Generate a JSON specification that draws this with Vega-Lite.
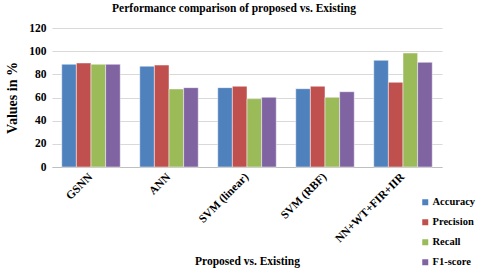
{
  "$schema": "https://vega.github.io/schema/vega-lite/v6.json",
  "width": 390,
  "height": 139,
  "autosize": "none",
  "padding": {"left": 52, "top": 28, "right": 38, "bottom": 105},
  "background": "white",
  "title": {
    "text": "Performance comparison of proposed vs. Existing",
    "font": "Times New Roman, Liberation Serif, serif",
    "fontSize": 11.5,
    "fontWeight": "bold",
    "color": "#000000",
    "anchor": "middle",
    "dx": -13,
    "offset": 8
  },
  "data": {
    "values": [
      {"method": "GSNN", "metric": "Accuracy", "value": 88.7},
      {"method": "GSNN", "metric": "Precision", "value": 89.8},
      {"method": "GSNN", "metric": "Recall", "value": 88.7},
      {"method": "GSNN", "metric": "F1-score", "value": 88.7},
      {"method": "ANN", "metric": "Accuracy", "value": 87.0},
      {"method": "ANN", "metric": "Precision", "value": 88.0},
      {"method": "ANN", "metric": "Recall", "value": 67.4},
      {"method": "ANN", "metric": "F1-score", "value": 68.5},
      {"method": "SVM (linear)", "metric": "Accuracy", "value": 68.5},
      {"method": "SVM (linear)", "metric": "Precision", "value": 69.7},
      {"method": "SVM (linear)", "metric": "Recall", "value": 59.0},
      {"method": "SVM (linear)", "metric": "F1-score", "value": 60.2},
      {"method": "SVM (RBF)", "metric": "Accuracy", "value": 67.6},
      {"method": "SVM (RBF)", "metric": "Precision", "value": 69.7},
      {"method": "SVM (RBF)", "metric": "Recall", "value": 60.2},
      {"method": "SVM (RBF)", "metric": "F1-score", "value": 65.0},
      {"method": "NN+WT+FIR+IIR", "metric": "Accuracy", "value": 92.1},
      {"method": "NN+WT+FIR+IIR", "metric": "Precision", "value": 73.1},
      {"method": "NN+WT+FIR+IIR", "metric": "Recall", "value": 98.4},
      {"method": "NN+WT+FIR+IIR", "metric": "F1-score", "value": 90.4}
    ]
  },
  "mark": {"type": "bar", "stroke": "#ffffff", "strokeWidth": 0.6, "strokeOpacity": 0.8},
  "encoding": {
    "x": {
      "field": "method",
      "type": "nominal",
      "sort": ["GSNN", "ANN", "SVM (linear)", "SVM (RBF)", "NN+WT+FIR+IIR"],
      "scale": {"paddingInner": 0.25, "paddingOuter": 0.125},
      "axis": {
        "title": "Proposed vs. Existing",
        "titleFont": "Times New Roman, Liberation Serif, serif",
        "titleFontSize": 11.5,
        "titleFontWeight": "bold",
        "titleColor": "#000000",
        "titleY": 94,
        "titleBaseline": "middle",
        "labelAngle": -45,
        "labelAlign": "right",
        "labelBaseline": "middle",
        "labelFont": "Times New Roman, Liberation Serif, serif",
        "labelFontSize": 11.5,
        "labelFontWeight": "bold",
        "labelColor": "#000000",
        "labelPadding": 8,
        "ticks": false,
        "domainColor": "#bfbfbf",
        "domainWidth": 1
      }
    },
    "xOffset": {
      "field": "metric",
      "type": "nominal",
      "sort": ["Accuracy", "Precision", "Recall", "F1-score"],
      "scale": {"paddingInner": 0, "paddingOuter": 0}
    },
    "y": {
      "field": "value",
      "type": "quantitative",
      "scale": {"domain": [0, 120], "nice": false},
      "axis": {
        "title": "Values in %",
        "titleFont": "Times New Roman, Liberation Serif, serif",
        "titleFontSize": 14,
        "titleFontWeight": "bold",
        "titleColor": "#000000",
        "titleX": -40,
        "titleBaseline": "middle",
        "values": [0, 20, 40, 60, 80, 100, 120],
        "labelFont": "Times New Roman, Liberation Serif, serif",
        "labelFontSize": 11.5,
        "labelFontWeight": "bold",
        "labelColor": "#000000",
        "labelPadding": 6,
        "domain": false,
        "ticks": false,
        "gridColor": "#d9d9d9",
        "gridWidth": 1
      }
    },
    "color": {
      "field": "metric",
      "type": "nominal",
      "sort": ["Accuracy", "Precision", "Recall", "F1-score"],
      "scale": {
        "domain": ["Accuracy", "Precision", "Recall", "F1-score"],
        "range": ["#4F81BD", "#C0504D", "#9BBB59", "#8064A2"]
      },
      "legend": {
        "title": null,
        "orient": "none",
        "legendX": 368,
        "legendY": 169,
        "symbolType": "square",
        "symbolSize": 36,
        "symbolStrokeWidth": 0,
        "labelFont": "Times New Roman, Liberation Serif, serif",
        "labelFontSize": 10.5,
        "labelFontWeight": "bold",
        "labelColor": "#000000",
        "labelOffset": 2,
        "rowPadding": 9
      }
    }
  },
  "config": {"view": {"stroke": null}}
}
